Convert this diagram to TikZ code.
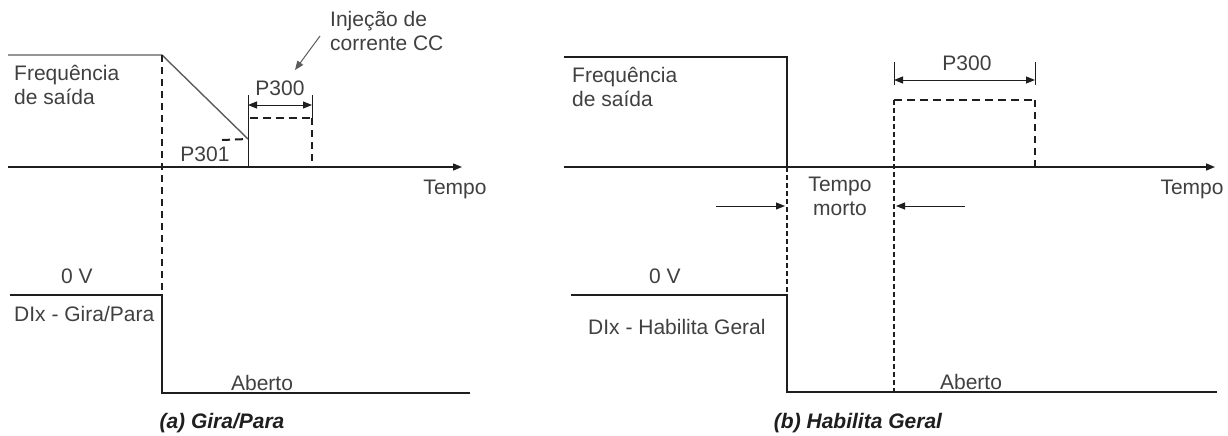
\documentclass[tikz,border=0pt]{standalone}
\usepackage{fontspec}
\setmainfont{Liberation Sans}
\usetikzlibrary{arrows.meta}
\definecolor{ink}{HTML}{1E1E1E}
\definecolor{inksoft}{HTML}{5C5C5C}
\definecolor{labelink}{HTML}{404040}

\begin{document}
\begin{tikzpicture}[
  x=1pt, y=-1pt,
  >={Triangle[length=9pt, width=7pt]},
  lbl/.style={text=labelink, font=\fontsize{21}{24}\selectfont, inner sep=0pt, align=left},
  caption/.style={lbl, font=\fontsize{21}{24}\selectfont\bfseries\itshape, text=ink},
  sig/.style={draw=ink, line width=1.4pt},
  freq/.style={draw=inksoft, line width=1.4pt},
  guide/.style={draw=ink, line width=1.1pt, dash pattern=on 7pt off 5pt},
  fineguide/.style={draw=ink, line width=1.1pt, dash pattern=on 5pt off 3pt},
  level/.style={draw=ink, line width=2pt, dash pattern=on 8pt off 5pt},
  tick/.style={draw=ink, line width=0.9pt},
  dim/.style={<->, draw=ink, line width=1pt},
  axis/.style={->, draw=ink, line width=1.4pt},
  pointer/.style={->, draw=ink, line width=1pt}
]
\useasboundingbox (0,0) rectangle (1228,436);

% (a) Gira/Para
\coordinate (aStart) at (8,55);
\coordinate (aStop) at (162,55);
\coordinate (aZero) at (248,139);
\coordinate (aLow) at (162,295);
\coordinate (aOpen) at (162,393);

\draw[freq] (aStart) -- (aStop) -- (aZero);
\draw[tick] (248,95) -- (248,167);
\draw[axis] (8,167) -- (462,167);
\draw[guide] (aStop) -- (aLow);
\draw[sig] (10,295) -- (aLow) -- (aOpen) -- (470,393);
\draw[level] (222,140) -- (aZero);
\draw[level] (250,118) -- (312,118);
\draw[guide] (312,118) -- (312,167);
\draw[tick] (312,95) -- (312,118);
\coordinate (aDimL) at (248,105);
\coordinate (aDimR) at (312,105);
\draw[dim] (aDimL) -- (aDimR);

\node[lbl, anchor=west] (aFreq) at (14,85) {Frequência\\de saída};
\node[lbl] (aP300) at (280,88) {P300};
\node[lbl] (aP301) at (205,154) {P301};
\node[lbl, anchor=west] (aInj) at (330,31) {Injeção de\\corrente CC};
\coordinate (aInjTail) at (320,36);
\coordinate (aInjTip) at (295,70);
\draw[pointer, draw=inksoft] (aInjTail) -- (aInjTip);
\node[lbl] (aTempo) at (455,189) {Tempo};
\node[lbl] (aZeroV) at (77,276) {0 V};
\node[lbl, anchor=west] (aDi) at (14,314) {DIx - Gira/Para};
\node[lbl] (aAberto) at (262,383) {Aberto};
\node[caption] (aCap) at (222,423) {(a) Gira/Para};

% (b) Habilita Geral
\coordinate (bStart) at (564,57);
\coordinate (bStop) at (787,57);
\coordinate (bZero) at (787,167);
\coordinate (bLow) at (787,295);
\coordinate (bOpen) at (787,392);
\coordinate (bDc) at (894,100);

\draw[freq, draw=ink] (bStart) -- (bStop) -- (bZero);
\draw[axis] (564,167) -- (1215,167);
\draw[line width=2.4pt, draw=ink] (873,167) -- (945,167);
\draw[fineguide] (bZero) -- (bLow);
\draw[sig] (571,295) -- (bLow) -- (bOpen) -- (1217,392);
\draw[fineguide] (bDc) -- (894,392);
\draw[level] (bDc) -- (1035,100);
\draw[guide] (1035,100) -- (1035,167);
\draw[tick] (894,62) -- (894,85);
\draw[tick] (1035,62) -- (1035,85);
\coordinate (bDimL) at (894,80);
\coordinate (bDimR) at (1035,80);
\draw[dim] (bDimL) -- (bDimR);

\node[lbl, anchor=west] (bFreq) at (572,87) {Frequência\\de saída};
\node[lbl] (bP300) at (967,63) {P300};
\node[lbl, align=center] (bDead) at (840,196) {Tempo\\morto};
\coordinate (bDeadL) at (716,206);
\coordinate (bDeadR) at (965,206);
\draw[pointer] (bDeadL) -- (785,206);
\draw[pointer] (bDeadR) -- (896,206);
\node[lbl] (bTempo) at (1192,189) {Tempo};
\node[lbl] (bZeroV) at (665,276) {0 V};
\node[lbl, anchor=west] (bDi) at (588,327) {DIx - Habilita Geral};
\node[lbl] (bAberto) at (971,382) {Aberto};
\node[caption] (bCap) at (858,423) {(b) Habilita Geral};
\end{tikzpicture}
\end{document}
